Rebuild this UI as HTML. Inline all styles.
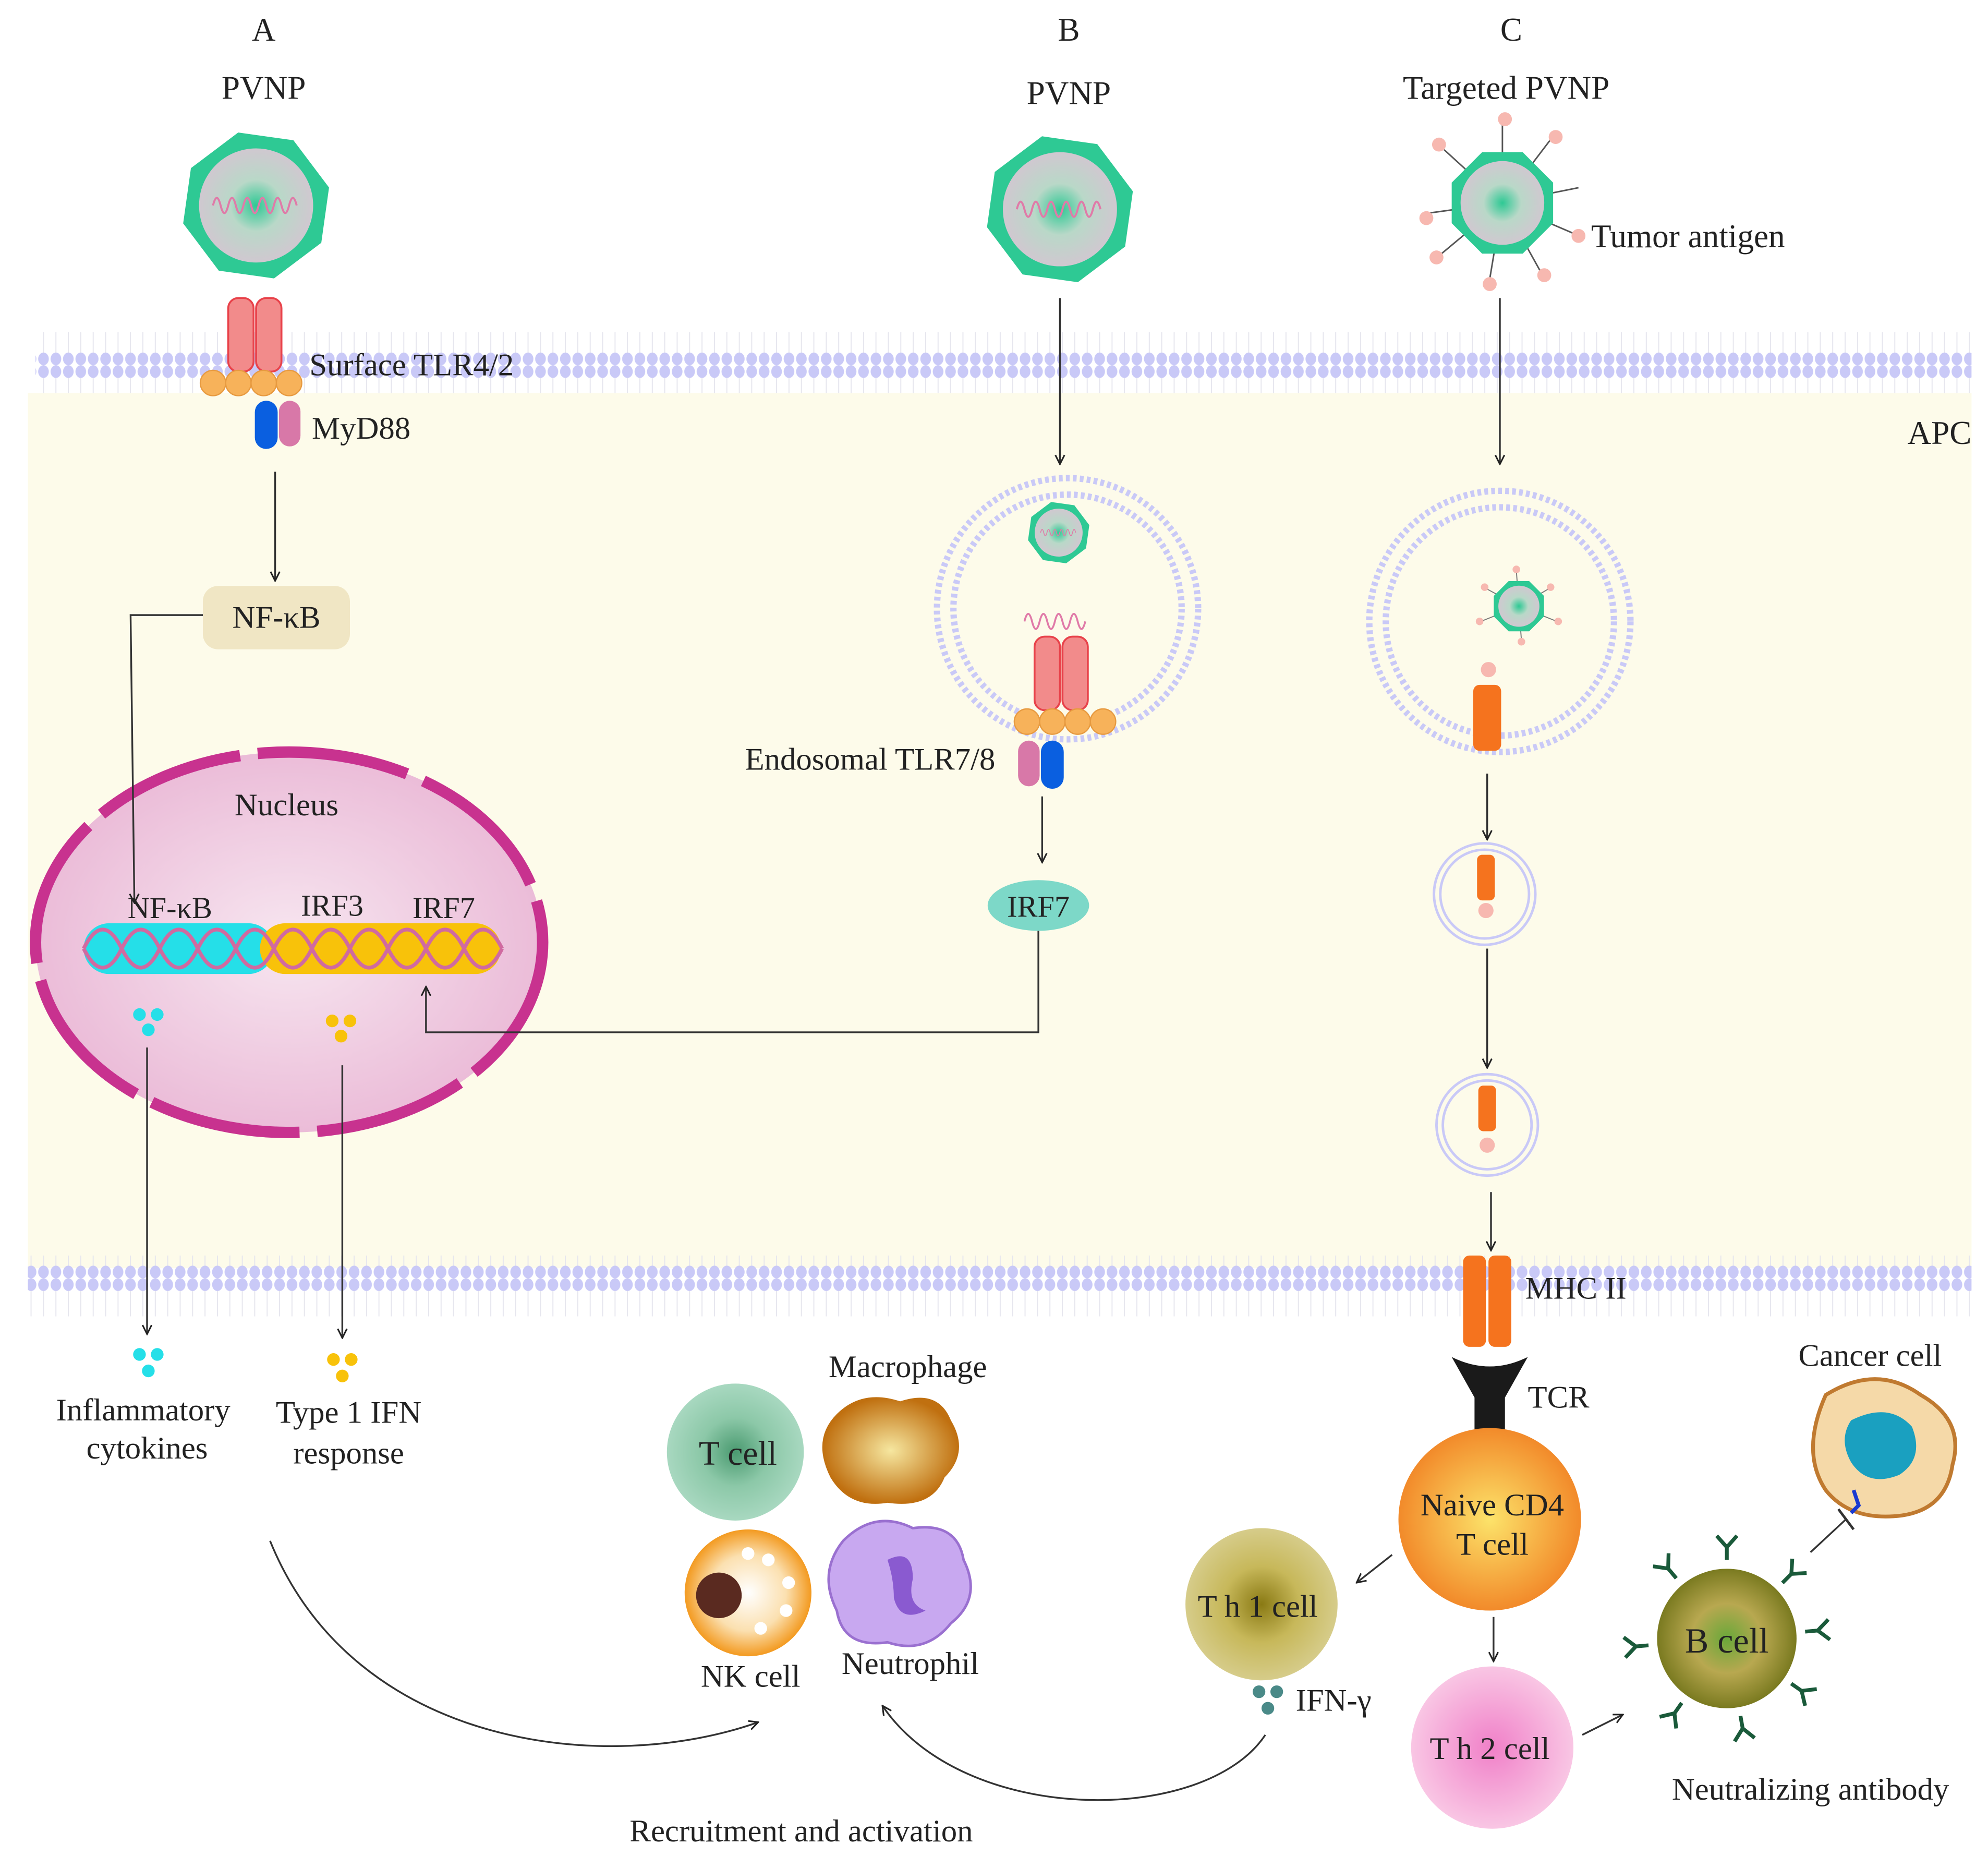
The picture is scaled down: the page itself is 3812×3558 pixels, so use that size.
<!DOCTYPE html>
<html><head><meta charset="utf-8"><style>
html,body{margin:0;padding:0;background:#fff;}
svg{display:block;}
text{font-family:"Liberation Serif",serif;fill:#222;}
</style></head><body>
<svg width="3812" height="3558" viewBox="0 0 1568 1463.5" xmlns="http://www.w3.org/2000/svg">
<defs>
<pattern id="lip" x="0" y="0" width="9.8" height="48" patternUnits="userSpaceOnUse">
<line x1="4.9" y1="6" x2="4.9" y2="42" stroke="#e6e6ee" stroke-width="0.8"/>
<ellipse cx="4.9" cy="5" rx="4.2" ry="5" fill="#c9c9f7"/>
<ellipse cx="4.9" cy="43" rx="4.2" ry="5" fill="#c9c9f7"/>
</pattern>
<radialGradient id="core"><stop offset="0" stop-color="#2ec994"/><stop offset="0.45" stop-color="#b9d8c8"/><stop offset="1" stop-color="#d0c8d0"/></radialGradient>
<radialGradient id="nuc"><stop offset="0" stop-color="#f7e6f0"/><stop offset="1" stop-color="#ebbcd8"/></radialGradient>
<marker id="ar" viewBox="0 0 10 10" refX="9" refY="5" markerWidth="9" markerHeight="9" orient="auto-start-reverse" markerUnits="userSpaceOnUse"><path d="M1,1 L9,5 L1,9" fill="none" stroke="#222" stroke-width="1.4"/></marker>
<g id="pvnp">
<polygon points="-22,-55 22,-55 55,-22 55,22 22,55 -22,55 -55,22 -55,-22" fill="#2ec994" transform="rotate(8)"/>
<circle r="45" fill="url(#core)"/>
<path d="M-34,0 q3,-12 6,0 t6,0 t6,0 t6,0 t6,0 t6,0 t6,0 t6,0 t6,0 t6,0 t6,0" fill="none" stroke="#e07aa8" stroke-width="1.6"/>
</g>
<g id="ab"><path d="M0,0 L0,-10 M0,-10 L-8,-19 M0,-10 L8,-19" stroke="#1a5a3a" stroke-width="3" fill="none"/></g>
</defs>
<rect x="22" y="310" width="1533" height="690" fill="#fdfbea"/>
<rect x="28" y="262" width="1527" height="48" fill="url(#lip)"/>
<rect x="22" y="990" width="1533" height="48" fill="url(#lip)"/>
<text x="1555" y="350" font-size="26" text-anchor="end">APC</text>
<text x="208" y="32" font-size="26" text-anchor="middle">A</text>
<text x="843" y="32" font-size="26" text-anchor="middle">B</text>
<text x="1192" y="32" font-size="26" text-anchor="middle">C</text>
<text x="208" y="78" font-size="26" text-anchor="middle">PVNP</text>
<text x="843" y="82" font-size="26" text-anchor="middle">PVNP</text>
<text x="1188" y="78" font-size="26" text-anchor="middle">Targeted PVNP</text>
<use href="#pvnp" x="202" y="162"/>
<use href="#pvnp" x="836" y="165"/>
<g transform="translate(1185,160)">
<g stroke="#555" stroke-width="1.2">
<line x1="0" y1="0" x2="0" y2="-62"/><line x1="0" y1="0" x2="38" y2="-50"/><line x1="0" y1="0" x2="60" y2="-12"/><line x1="0" y1="0" x2="56" y2="24"/><line x1="0" y1="0" x2="30" y2="54"/><line x1="0" y1="0" x2="-10" y2="60"/><line x1="0" y1="0" x2="-48" y2="40"/><line x1="0" y1="0" x2="-58" y2="8"/><line x1="0" y1="0" x2="-46" y2="-42"/>
</g>
<g fill="#f7b8b0"><circle cx="2" cy="-66" r="5.5"/><circle cx="42" cy="-52" r="5.5"/><circle cx="60" cy="26" r="5.5"/><circle cx="33" cy="57" r="5.5"/><circle cx="-10" cy="64" r="5.5"/><circle cx="-52" cy="43" r="5.5"/><circle cx="-60" cy="12" r="5.5"/><circle cx="-50" cy="-46" r="5.5"/></g>
<polygon points="-16,-40 16,-40 40,-16 40,16 16,40 -16,40 -40,16 -40,-16" fill="#2ec994"/>
<circle r="33" fill="url(#core)"/>
</g>
<text x="1255" y="195" font-size="26">Tumor antigen</text>
<g fill="#f28b8b" stroke="#e8424a" stroke-width="1.5">
<rect x="180" y="235" width="20" height="58" rx="8"/><rect x="202" y="235" width="20" height="58" rx="8"/>
</g>
<g fill="#f7b25a" stroke="#e79a40"><circle cx="168" cy="302" r="10"/><circle cx="188" cy="302" r="10"/><circle cx="208" cy="302" r="10"/><circle cx="228" cy="302" r="10"/></g>
<rect x="201" y="316" width="18" height="38" rx="9" fill="#0a5fe0"/>
<rect x="220" y="316" width="17" height="36" rx="8.5" fill="#d878a8"/>
<text x="244" y="296" font-size="25">Surface TLR4/2</text>
<text x="246" y="346" font-size="25">MyD88</text>
<line x1="217" y1="372" x2="217" y2="458" stroke="#333" stroke-width="1.4" marker-end="url(#ar)"/>
<rect x="160" y="462" width="116" height="50" rx="12" fill="#f0e6c4"/>
<text x="218" y="495" font-size="25" text-anchor="middle">NF-κB</text>
<ellipse cx="228" cy="743" rx="200" ry="150" fill="url(#nuc)"/>
<ellipse cx="228" cy="743" rx="200" ry="150" fill="none" stroke="#c8328f" stroke-width="9" stroke-dasharray="120 14"/>
<polyline points="160,485 103,485 106,712" fill="none" stroke="#333" stroke-width="1.4" marker-end="url(#ar)"/>
<text x="226" y="643" font-size="25" text-anchor="middle">Nucleus</text>
<text x="134" y="724" font-size="24" text-anchor="middle">NF-κB</text>
<text x="262" y="722" font-size="24" text-anchor="middle">IRF3</text>
<text x="350" y="724" font-size="24" text-anchor="middle">IRF7</text>
<rect x="66" y="728" width="150" height="40" rx="20" fill="#25dfe8"/>
<rect x="205" y="728" width="190" height="40" rx="20" fill="#f8c20a"/>
<path d="M66,748 q15,-30 30,0 t30,0 t30,0 t30,0 t30,0 t30,0 t30,0 t30,0 t30,0 t30,0 t30,0" fill="none" stroke="#d06aa0" stroke-width="3"/>
<path d="M66,748 q15,30 30,0 t30,0 t30,0 t30,0 t30,0 t30,0 t30,0 t30,0 t30,0 t30,0 t30,0" fill="none" stroke="#d06aa0" stroke-width="3"/>
<g fill="#25dfe8"><circle cx="110" cy="800" r="5"/><circle cx="124" cy="800" r="5"/><circle cx="117" cy="812" r="5"/></g>
<g fill="#f8c20a"><circle cx="262" cy="805" r="5"/><circle cx="276" cy="805" r="5"/><circle cx="269" cy="817" r="5"/></g>
<line x1="116" y1="826" x2="116" y2="1052" stroke="#333" stroke-width="1.4" marker-end="url(#ar)"/>
<line x1="270" y1="840" x2="270" y2="1055" stroke="#333" stroke-width="1.4" marker-end="url(#ar)"/>
<g fill="#25dfe8"><circle cx="110" cy="1068" r="5"/><circle cx="124" cy="1068" r="5"/><circle cx="117" cy="1081" r="5"/></g>
<g fill="#f8c20a"><circle cx="263" cy="1072" r="5"/><circle cx="277" cy="1072" r="5"/><circle cx="270" cy="1085" r="5"/></g>
<text x="113" y="1120" font-size="25" text-anchor="middle">Inflammatory</text>
<text x="116" y="1150" font-size="25" text-anchor="middle">cytokines</text>
<text x="275" y="1122" font-size="25" text-anchor="middle">Type 1 IFN</text>
<text x="275" y="1154" font-size="25" text-anchor="middle">response</text>
<line x1="836" y1="235" x2="836" y2="366" stroke="#333" stroke-width="1.4" marker-end="url(#ar)"/>
<circle cx="842" cy="480" r="103" fill="none" stroke="#c9c9f7" stroke-width="5" stroke-dasharray="3 2.5"/>
<circle cx="842" cy="480" r="90" fill="none" stroke="#c9c9f7" stroke-width="5" stroke-dasharray="3 2.5"/>
<g transform="translate(835,420) scale(0.42)"><use href="#pvnp"/></g>
<path d="M808,490 q3,-12 6,0 t6,0 t6,0 t6,0 t6,0 t6,0 t6,0 t6,0" fill="none" stroke="#e07aa8" stroke-width="1.5"/>
<g fill="#f28b8b" stroke="#e8424a" stroke-width="1.5">
<rect x="816" y="502" width="20" height="58" rx="8"/><rect x="838" y="502" width="20" height="58" rx="8"/>
</g>
<g fill="#f7b25a" stroke="#e79a40"><circle cx="810" cy="569" r="10"/><circle cx="830" cy="569" r="10"/><circle cx="850" cy="569" r="10"/><circle cx="870" cy="569" r="10"/></g>
<rect x="803" y="584" width="17" height="36" rx="8.5" fill="#d878a8"/>
<rect x="821" y="584" width="18" height="38" rx="9" fill="#0a5fe0"/>
<text x="785" y="607" font-size="25" text-anchor="end">Endosomal TLR7/8</text>
<line x1="822" y1="628" x2="822" y2="680" stroke="#333" stroke-width="1.4" marker-end="url(#ar)"/>
<ellipse cx="819" cy="714" rx="40" ry="20" fill="#7dd8c8"/>
<text x="819" y="723" font-size="24" text-anchor="middle">IRF7</text>
<polyline points="819,734 819,814 336,814 336,778" fill="none" stroke="#333" stroke-width="1.4" marker-end="url(#ar)"/>
<line x1="1183" y1="235" x2="1183" y2="366" stroke="#333" stroke-width="1.4" marker-end="url(#ar)"/>
<circle cx="1183" cy="490" r="103" fill="none" stroke="#c9c9f7" stroke-width="5" stroke-dasharray="3 2.5"/>
<circle cx="1183" cy="490" r="90" fill="none" stroke="#c9c9f7" stroke-width="5" stroke-dasharray="3 2.5"/>
<g transform="translate(1198,478)">
<g stroke="#777" stroke-width="0.8"><line x1="0" y1="0" x2="-26" y2="-14"/><line x1="0" y1="0" x2="24" y2="-14"/><line x1="0" y1="0" x2="30" y2="12"/><line x1="0" y1="0" x2="-30" y2="12"/><line x1="0" y1="0" x2="2" y2="27"/><line x1="0" y1="0" x2="-2" y2="-28"/></g>
<g fill="#f7b8b0"><circle cx="-27" cy="-15" r="3"/><circle cx="25" cy="-15" r="3"/><circle cx="31" cy="12" r="3"/><circle cx="-31" cy="12" r="3"/><circle cx="2" cy="28" r="3"/><circle cx="-2" cy="-29" r="3"/></g>
<g transform="scale(0.45)"><polygon points="-18,-44 18,-44 44,-18 44,18 18,44 -18,44 -44,18 -44,-18" fill="#2ec994"/><circle r="36" fill="url(#core)"/></g>
</g>
<circle cx="1174" cy="528" r="6" fill="#f7b8b0"/>
<rect x="1162" y="540" width="22" height="52" rx="5" fill="#f5731e"/>
<line x1="1173" y1="610" x2="1173" y2="662" stroke="#333" stroke-width="1.4" marker-end="url(#ar)"/>
<circle cx="1171" cy="705" r="40" fill="none" stroke="#c9c9f7" stroke-width="2"/><circle cx="1171" cy="705" r="35" fill="none" stroke="#c9c9f7" stroke-width="2"/>
<rect x="1165" y="674" width="14" height="36" rx="4" fill="#f5731e"/><circle cx="1172" cy="718" r="6" fill="#f7b8b0"/>
<line x1="1173" y1="748" x2="1173" y2="842" stroke="#333" stroke-width="1.4" marker-end="url(#ar)"/>
<circle cx="1173" cy="887" r="40" fill="none" stroke="#c9c9f7" stroke-width="2"/><circle cx="1173" cy="887" r="35" fill="none" stroke="#c9c9f7" stroke-width="2"/>
<rect x="1166" y="856" width="14" height="36" rx="4" fill="#f5731e"/><circle cx="1173" cy="903" r="6" fill="#f7b8b0"/>
<line x1="1176" y1="940" x2="1176" y2="986" stroke="#333" stroke-width="1.4" marker-end="url(#ar)"/>
<rect x="1154" y="990" width="18" height="72" rx="5" fill="#f5731e"/><rect x="1174" y="990" width="18" height="72" rx="5" fill="#f5731e"/>
<text x="1203" y="1024" font-size="25">MHC II</text>
<path d="M1145,1070 q30,15 60,0 l-18,32 l0,30 l-24,0 l0,-30 z" fill="#1a1a1a"/>
<text x="1205" y="1110" font-size="25">TCR</text>
<defs>
<radialGradient id="naive"><stop offset="0" stop-color="#fce36a"/><stop offset="1" stop-color="#f28a2a"/></radialGradient>
<radialGradient id="th1"><stop offset="0" stop-color="#8a7a14"/><stop offset="0.5" stop-color="#c7b85a"/><stop offset="1" stop-color="#d6cc8a"/></radialGradient>
<radialGradient id="th2"><stop offset="0" stop-color="#f080c8"/><stop offset="1" stop-color="#f9c6e4"/></radialGradient>
<radialGradient id="bc"><stop offset="0" stop-color="#6aa83a"/><stop offset="0.5" stop-color="#b8a850"/><stop offset="1" stop-color="#7a7a20"/></radialGradient>
<radialGradient id="tc"><stop offset="0" stop-color="#4a9a70"/><stop offset="0.5" stop-color="#8cc8a8"/><stop offset="1" stop-color="#a8d8c0"/></radialGradient>
<radialGradient id="mac"><stop offset="0" stop-color="#f6e7a0"/><stop offset="1" stop-color="#c07010"/></radialGradient>
<radialGradient id="nk"><stop offset="0" stop-color="#fff"/><stop offset="0.6" stop-color="#fbe0b0"/><stop offset="1" stop-color="#f39a20"/></radialGradient>
</defs>
<circle cx="1175" cy="1198" r="72" fill="url(#naive)"/>
<text x="1177" y="1195" font-size="25" text-anchor="middle">Naive CD4</text>
<text x="1177" y="1226" font-size="25" text-anchor="middle">T cell</text>
<line x1="1098" y1="1226" x2="1070" y2="1248" stroke="#333" stroke-width="1.4" marker-end="url(#ar)"/>
<line x1="1178" y1="1275" x2="1178" y2="1310" stroke="#333" stroke-width="1.4" marker-end="url(#ar)"/>
<circle cx="995" cy="1265" r="60" fill="url(#th1)"/>
<text x="992" y="1275" font-size="25" text-anchor="middle">T h 1 cell</text>
<g fill="#4a8a88"><circle cx="993" cy="1334" r="5"/><circle cx="1007" cy="1334" r="5"/><circle cx="1000" cy="1347" r="5"/></g>
<text x="1022" y="1349" font-size="25">IFN-γ</text>
<circle cx="1177" cy="1378" r="64" fill="url(#th2)"/>
<text x="1175" y="1387" font-size="25" text-anchor="middle">T h 2 cell</text>
<line x1="1248" y1="1368" x2="1280" y2="1352" stroke="#333" stroke-width="1.4" marker-end="url(#ar)"/>
<g transform="translate(1362,1292)">
<use href="#ab" transform="rotate(-40) translate(0,-62)"/>
<use href="#ab" transform="rotate(0) translate(0,-62)"/>
<use href="#ab" transform="rotate(45) translate(0,-62)"/>
<use href="#ab" transform="rotate(85) translate(0,-62)"/>
<use href="#ab" transform="rotate(125) translate(0,-62)"/>
<use href="#ab" transform="rotate(170) translate(0,-62)"/>
<use href="#ab" transform="rotate(215) translate(0,-62)"/>
<use href="#ab" transform="rotate(265) translate(0,-62)"/>
</g>
<circle cx="1362" cy="1292" r="55" fill="url(#bc)"/>
<text x="1362" y="1303" font-size="28" text-anchor="middle">B cell</text>
<text x="1428" y="1419" font-size="25" text-anchor="middle">Neutralizing antibody</text>
<line x1="1428" y1="1224" x2="1456" y2="1198" stroke="#333" stroke-width="1.4"/>
<line x1="1450" y1="1190" x2="1462" y2="1206" stroke="#333" stroke-width="2"/>
<text x="1475" y="1077" font-size="25" text-anchor="middle">Cancer cell</text>
<path d="M1440,1100 q40,-25 75,0 q35,20 25,55 q-5,35 -40,40 q-40,5 -60,-20 q-20,-30 0,-75z" fill="#f5d9a8" stroke="#c07a30" stroke-width="3"/>
<path d="M1460,1120 q30,-15 48,5 q10,25 -10,38 q-25,10 -38,-10 q-10,-18 0,-33z" fill="#1aa0c0"/>
<path d="M1462,1175 l4,12 l-6,6" stroke="#1a3ad0" stroke-width="3" fill="none"/>
<circle cx="580" cy="1145" r="54" fill="url(#tc)"/>
<text x="582" y="1155" font-size="27" text-anchor="middle">T cell</text>
<text x="716" y="1086" font-size="25" text-anchor="middle">Macrophage</text>
<path d="M660,1115 q20,-20 50,-10 q30,-10 40,15 q15,25 -5,45 q-10,25 -45,20 q-30,5 -45,-20 q-15,-30 5,-50z" fill="url(#mac)"/>
<circle cx="590" cy="1256" r="50" fill="url(#nk)"/>
<circle cx="567" cy="1258" r="18" fill="#5a2a20"/>
<g fill="#fff"><circle cx="606" cy="1230" r="5"/><circle cx="622" cy="1248" r="5"/><circle cx="620" cy="1270" r="5"/><circle cx="600" cy="1284" r="5"/><circle cx="590" cy="1225" r="5"/></g>
<text x="592" y="1330" font-size="25" text-anchor="middle">NK cell</text>
<path d="M665,1215 q25,-25 55,-10 q35,-5 40,25 q15,30 -10,50 q-20,25 -50,15 q-35,5 -40,-25 q-15,-30 5,-55z" fill="#c8a8f0" stroke="#9a70d0" stroke-width="2"/>
<path d="M700,1230 q20,-10 20,15 q-5,20 10,25 q-20,10 -25,-10 q0,-15 -5,-30z" fill="#8a5ad0"/>
<text x="718" y="1320" font-size="25" text-anchor="middle">Neutrophil</text>
<path d="M213,1215 C280,1380 480,1400 598,1358" fill="none" stroke="#333" stroke-width="1.4" marker-end="url(#ar)"/>
<path d="M998,1368 C950,1440 760,1440 696,1345" fill="none" stroke="#333" stroke-width="1.4" marker-end="url(#ar)"/>
<text x="632" y="1452" font-size="25" text-anchor="middle">Recruitment and activation</text>
</svg>
</body></html>
